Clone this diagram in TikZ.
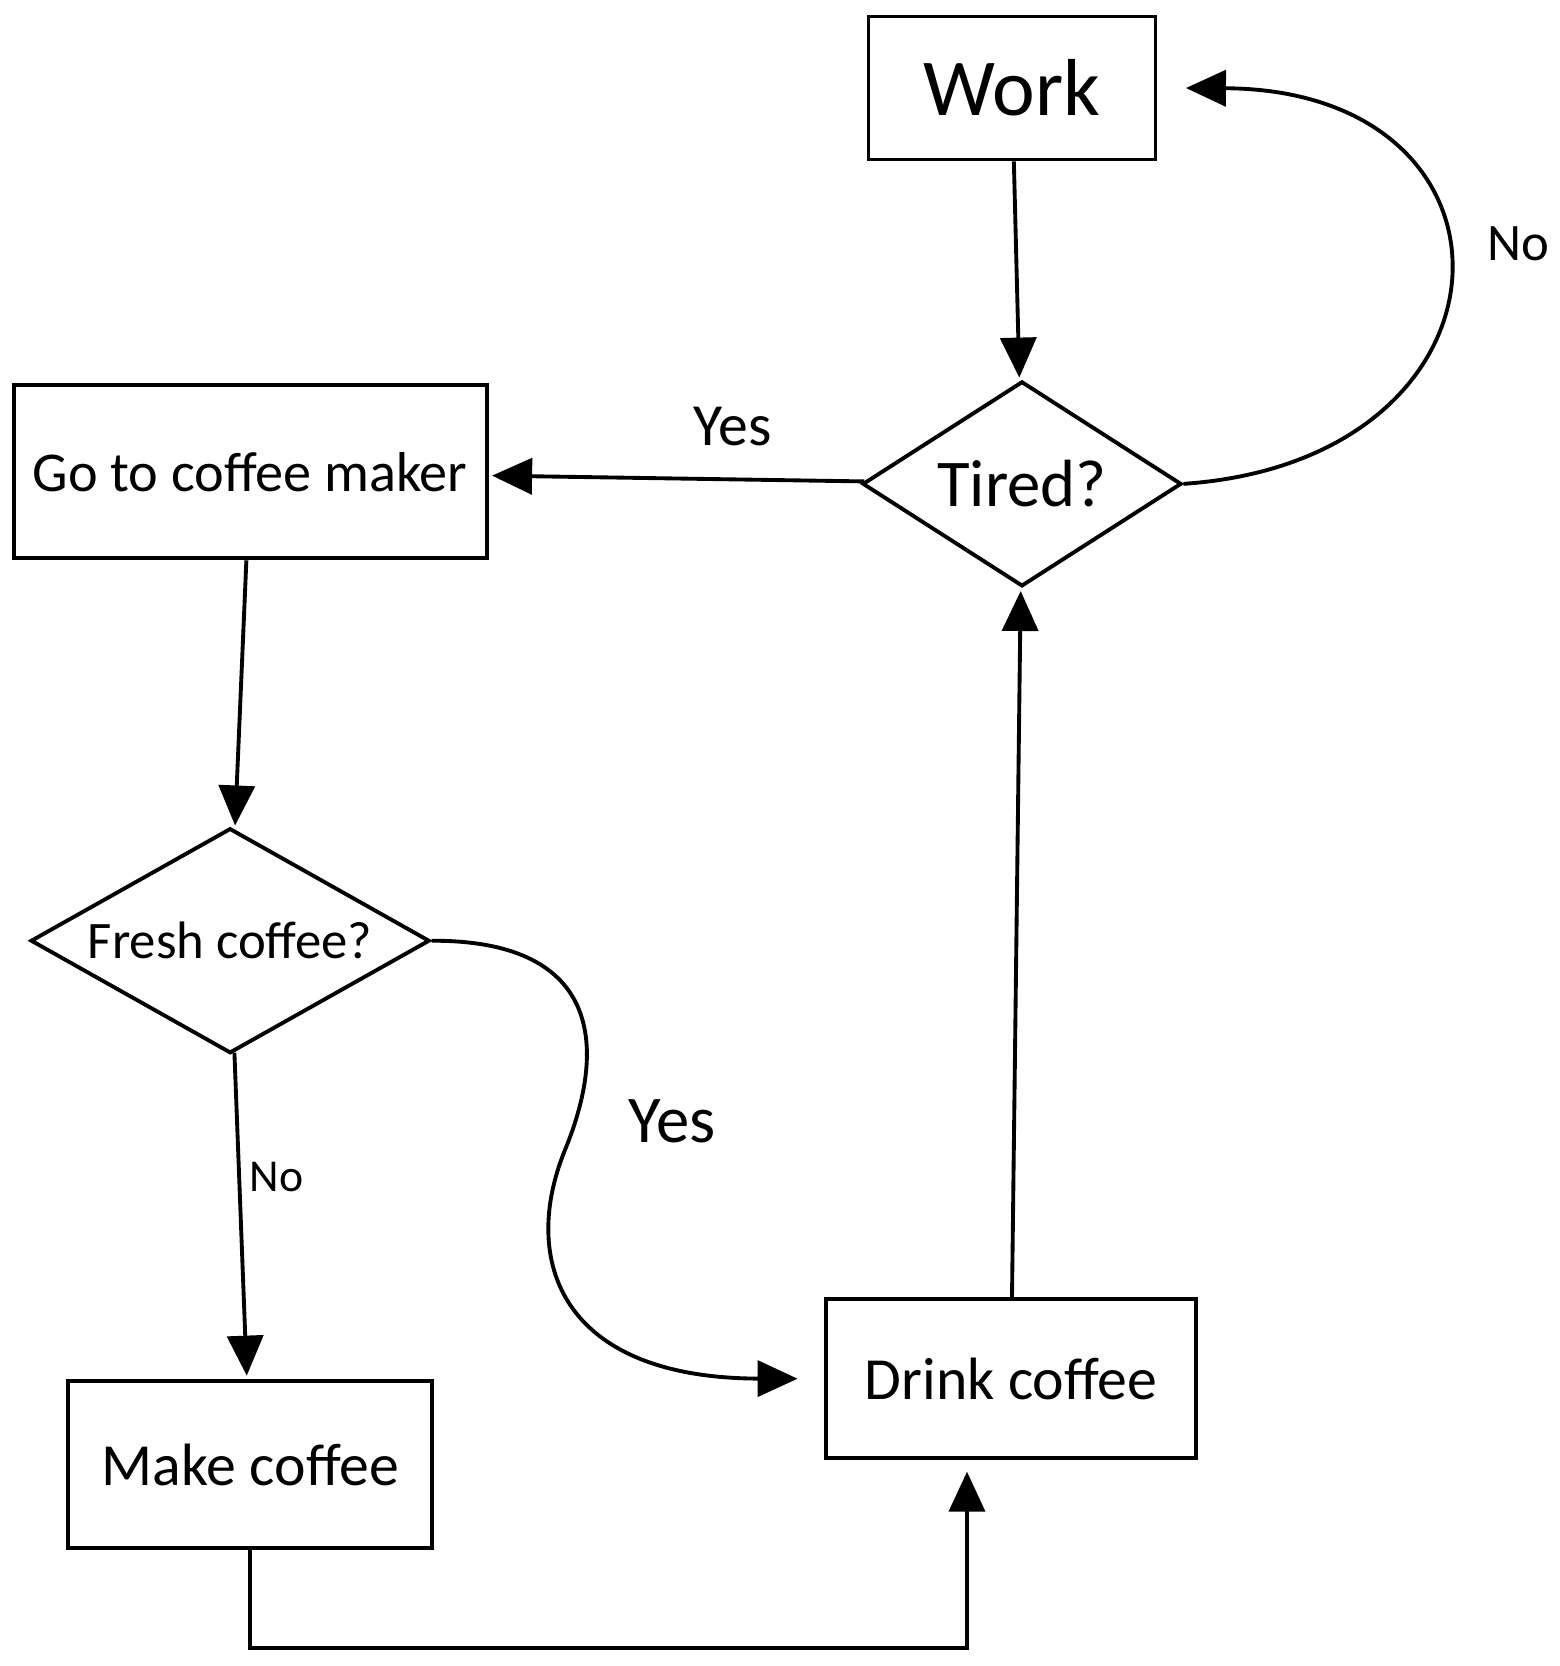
\documentclass[tikz,border=0pt]{standalone}
\usepackage{fontspec}
\setmainfont{Carlito}
\usetikzlibrary{arrows.meta,shapes.geometric,positioning}

\begin{document}
\begin{tikzpicture}[
    x = 0.1mm, y = -0.1mm, % one unit per pixel, y going down
    > = {Triangle[length=4mm, width=3.6mm]}, % arrow head style
    shorten > = 1pt, % don't touch arrow head to node
    line width = 1.1pt % line style
    ]

    \tikzset{
    box/.style = {draw, rectangle, inner sep = 0pt},
    test/.style = {draw, diamond, inner sep = 0pt},
    answer/.style = {font = \fontsize{17}{20}\selectfont}
    }

    \useasboundingbox (0,0) rectangle (1560,1666);

    \node[box, minimum width=28.7mm, minimum height=14.3mm, font=\fontsize{23}{27}\selectfont] (work) at (1012,88) {Work};
    \node[test, aspect=1.55, minimum width=31.9mm, minimum height=20.5mm, font=\fontsize{19}{23}\selectfont] (tired) [below=21.8mm of work, xshift=1mm] {Tired?};
    \node[box, minimum width=47.3mm, minimum height=17.3mm, font=\fontsize{16}{19}\selectfont] (go) [left=37.2mm of tired, yshift=1.2mm] {Go to coffee maker};
    \node[test, aspect=1.77, minimum width=39.9mm, minimum height=22.5mm, font=\fontsize{15}{18}\selectfont] (fresh) [below=26.6mm of go, xshift=-2mm] {Fresh coffee?};
    \node[box, minimum width=36.4mm, minimum height=16.7mm, font=\fontsize{17}{20}\selectfont] (make) [below=32.4mm of fresh, xshift=2mm] {Make coffee};
    \node[box, minimum width=37mm, minimum height=15.9mm, font=\fontsize{17}{20}\selectfont] (drink) [below=70.9mm of tired, xshift=-1.1mm] {Drink coffee};

    \path[->] (work) edge (tired);
    \path[->] (tired) edge node[answer, above=2mm, pos=0.35]{Yes} (go);
    \draw[->] (tired.east) .. controls (1530,460) and (1540,90) .. node[answer, right=3mm, pos=0.56, font=\fontsize{15}{18}\selectfont]{No} ([xshift=2.5mm]work.east);
    \path[->] (go) edge (fresh);
    \path[->] (fresh) edge node[right=-0.3mm, pos=0.38, font=\fontsize{13}{16}\selectfont]{No} (make);
    \draw[->] (fresh.east) .. controls (595,940) and (610,1040) .. (565,1150)
        .. controls (520,1260) and (560,1378) .. ([xshift=-2.3mm]drink.west);
    \node[answer, font=\fontsize{19}{22}\selectfont] (yesfresh) at (672,1121) {Yes};
    \draw[->] (make.south) -- ++(0,-9.8mm) -| ([xshift=-4.4mm, yshift=-0.8mm]drink.south);
    \path[->] (drink) edge (tired);
\end{tikzpicture}
\end{document}
